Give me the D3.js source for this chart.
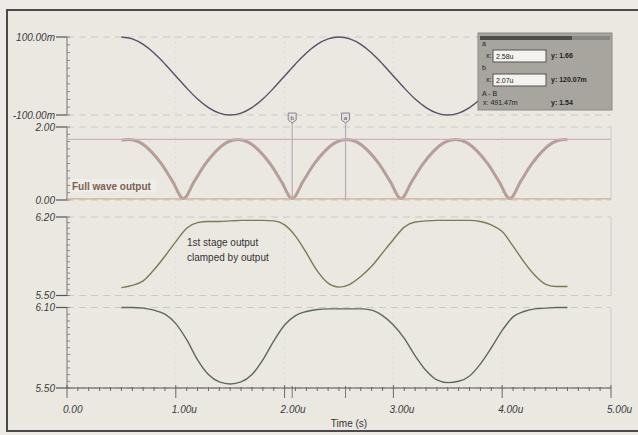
<!DOCTYPE html>
<html>
<head>
<meta charset="utf-8">
<script src="https://cdn.jsdelivr.net/npm/d3@7"></script>
<style>
  body { margin: 0; background: #eeebe6; }
  svg { display: block; font-family: 'Liberation Sans', Arial, sans-serif; }
</style>
</head>
<body>
<svg width="638" height="435"></svg>
<script>
// time base in microseconds
const timeA = [0.5,0.6,0.7,0.8,0.9,1.0,1.1,1.2,1.3,1.4,1.5,1.6,1.7,1.8,1.9,2.0,2.1,2.2,2.3,2.4,2.5,2.6,2.7,2.8,2.9,3.0,3.1,3.2,3.3,3.4,3.5,3.6,3.7,3.8,3.9,4.0,4.1,4.2,4.3,4.4,4.5,4.6]
const timeB = [0.5,0.57,0.67,0.77,0.87,0.97,1.07,1.17,1.27,1.37,1.47,1.57,1.67,1.77,1.87,1.97,2.07,2.17,2.27,2.37,2.47,2.57,2.67,2.77,2.87,2.97,3.07,3.17,3.27,3.37,3.47,3.57,3.67,3.77,3.87,3.97,4.07,4.17,4.27,4.37,4.47,4.57,4.6]

// input sine (mV)
const inputMv = [100,95,81,59,31,0,-31,-59,-81,-95,-100,-95,-81,-59,-31,0,31,59,81,95,100,95,81,59,31,0,-31,-59,-81,-95,-100,-95,-81,-59,-31,0,31,59,81,95,100,95]
// full wave output (V)
const fullWave = [1.64,1.66,1.58,1.34,0.98,0.51,0.04,0.51,0.98,1.34,1.58,1.66,1.58,1.34,0.98,0.51,0.04,0.51,0.98,1.34,1.58,1.66,1.58,1.34,0.98,0.51,0.04,0.51,0.98,1.34,1.58,1.66,1.58,1.34,0.98,0.51,0.04,0.51,0.98,1.34,1.58,1.66,1.65]
// 1st stage output (V)
const stageOne = [5.57,5.59,5.63,5.73,5.85,5.98,6.10,6.15,6.16,6.16,6.165,6.17,6.17,6.17,6.165,6.13,6.03,5.88,5.72,5.61,5.575,5.60,5.67,5.76,5.88,6.00,6.11,6.155,6.165,6.17,6.17,6.17,6.17,6.16,6.13,6.07,5.94,5.80,5.68,5.60,5.58,5.58]
// bottom trace (V)
const bottomTrace = [6.10,6.10,6.095,6.08,6.05,5.98,5.86,5.71,5.60,5.545,5.53,5.545,5.60,5.71,5.85,5.97,6.04,6.07,6.085,6.09,6.09,6.09,6.09,6.08,6.04,5.97,5.87,5.74,5.63,5.56,5.54,5.55,5.59,5.68,5.80,5.93,6.03,6.07,6.09,6.095,6.10,6.10]

const xTicks = [0, 1, 2, 3, 4, 5]
const xTickLabels = ['0.00', '1.00u', '2.00u', '3.00u', '4.00u', '5.00u']
const cursorNames = ['b', 'a']
const cursorTimes = [2.07, 2.56]

const panels = [
  { top: 37, bottom: 115, domain: [-100, 100], labels: ['100.00m', '-100.00m'], t: timeA, v: inputMv, color: '#5a4d66', width: 1.4 },
  { top: 127, bottom: 200, domain: [0, 2], labels: ['2.00', '0.00'], t: timeB, v: fullWave, color: '#b79f97', width: 3 },
  { top: 217, bottom: 295.5, domain: [5.5, 6.2], labels: ['6.20', '5.50'], t: timeA, v: stageOne, color: '#7b7a55', width: 1.4 },
  { top: 307.5, bottom: 388, domain: [5.5, 6.1], labels: ['6.10', '5.50'], t: timeA, v: bottomTrace, color: '#5c6b58', width: 1.4 }
]

const svg = d3.select('svg')
const x = d3.scaleLinear().domain([0, 5]).range([67, 611])

drawFrame()
panels.forEach(drawPanel)
drawCursors()
drawXAxis()
drawNotes()
drawCursorBox()


function drawFrame () {
  svg.append('rect') // scanned page frame
    .attr('x', 7).attr('y', 10)
    .attr('width', 660).attr('height', 421)
    .attr('fill', '#ebe8e2')
    .attr('stroke', '#4a4a4a')
    .attr('stroke-width', 2)
}


function drawPanel (p, i) {
  const y = d3.scaleLinear().domain(p.domain).range([p.bottom, p.top])
  const g = svg.append('g')

  // dashed top / bottom grid and faint vertical grid
  ;[p.top, p.bottom].forEach((yy) => {
    g.append('line')
      .attr('x1', 67).attr('x2', 611).attr('y1', yy).attr('y2', yy)
      .attr('stroke', '#ccc8c3').attr('stroke-dasharray', '7,5')
  })
  xTicks.slice(1, 5).forEach((t) => {
    g.append('line')
      .attr('x1', x(t)).attr('x2', x(t)).attr('y1', p.top).attr('y2', p.bottom)
      .attr('stroke', '#d3cfca').attr('stroke-dasharray', '1,4')
  })
  if (i > 0) {
    g.append('line')
      .attr('x1', 611).attr('x2', 611).attr('y1', p.top).attr('y2', p.bottom)
      .attr('stroke', '#cfcbc7')
  }

  // y axis with minor ticks
  g.append('line')
    .attr('x1', 67).attr('x2', 67).attr('y1', p.top).attr('y2', p.bottom)
    .attr('stroke', '#777')
  y.ticks(10).forEach((v) => {
    g.append('line')
      .attr('x1', 67).attr('x2', 70).attr('y1', y(v)).attr('y2', y(v))
      .attr('stroke', '#888')
  })
  p.domain.slice().reverse().forEach((v, k) => {
    g.append('line')
      .attr('x1', 56).attr('x2', 67).attr('y1', y(v)).attr('y2', y(v))
      .attr('stroke', '#555').attr('stroke-width', 1.2)
    g.append('text')
      .attr('x', 55).attr('y', y(v) + 3.5)
      .attr('text-anchor', 'end')
      .attr('font-size', 10).attr('font-style', 'italic')
      .attr('fill', '#3a3a3a')
      .text(p.labels[k])
  })

  const line = d3.line()
    .curve(d3.curveMonotoneX)
    .x((d, k) => x(p.t[k]))
    .y((d) => y(d))
  g.append('path')
    .datum(p.v)
    .attr('d', line)
    .attr('fill', 'none')
    .attr('stroke', p.color)
    .attr('stroke-width', p.width)
}


function drawCursors () {
  const y = d3.scaleLinear().domain(panels[1].domain).range([panels[1].bottom, panels[1].top])
  svg.append('line') // cursor a level
    .attr('x1', 67).attr('x2', 611).attr('y1', y(1.66)).attr('y2', y(1.66))
    .attr('stroke', '#cdb0c0').attr('stroke-width', 1.2)
  svg.append('line') // cursor b level
    .attr('x1', 67).attr('x2', 611).attr('y1', y(0.03)).attr('y2', y(0.03))
    .attr('stroke', '#d2ae90').attr('stroke-width', 1.2)

  cursorTimes.forEach((t, i) => {
    const cx = x(t)
    svg.append('line')
      .attr('x1', cx).attr('x2', cx).attr('y1', 121).attr('y2', panels[1].bottom)
      .attr('stroke', '#bcaab9').attr('stroke-width', 1.2)
    svg.append('path')
      .attr('d', `M${cx - 4},113 h8 v7 l-4,3 l-4,-3 z`)
      .attr('fill', '#e4dde2').attr('stroke', '#8f8490')
    svg.append('text')
      .attr('x', cx).attr('y', 120)
      .attr('text-anchor', 'middle')
      .attr('font-size', 6).attr('fill', '#555')
      .text(cursorNames[i])
    svg.append('line')
      .attr('x1', cx).attr('x2', cx).attr('y1', 386).attr('y2', 398)
      .attr('stroke', '#777')
  })
}


function drawXAxis () {
  const yAxis = 388
  svg.append('line')
    .attr('x1', 67).attr('x2', 611).attr('y1', yAxis).attr('y2', yAxis)
    .attr('stroke', '#555').attr('stroke-width', 1.2)
  d3.range(0, 51).forEach((k) => {
    const major = k % 10 === 0
    svg.append('line')
      .attr('x1', x(k / 10)).attr('x2', x(k / 10))
      .attr('y1', major ? yAxis - 3 : yAxis - 1)
      .attr('y2', major ? yAxis + 10 : yAxis + 3)
      .attr('stroke', '#666')
  })
  xTicks.forEach((t, i) => {
    svg.append('text')
      .attr('x', x(t) - 4).attr('y', 413)
      .attr('font-size', 10).attr('font-style', 'italic')
      .attr('fill', '#3a3a3a')
      .text(xTickLabels[i])
  })
  svg.append('text')
    .attr('x', 349).attr('y', 427)
    .attr('text-anchor', 'middle')
    .attr('font-size', 10).attr('fill', '#333')
    .text('Time (s)')
}


function drawNotes () {
  svg.append('rect')
    .attr('x', 70).attr('y', 179).attr('width', 86).attr('height', 13)
    .attr('fill', '#efede9')
  svg.append('text')
    .attr('x', 72).attr('y', 189.5)
    .attr('font-size', 10).attr('font-weight', 'bold')
    .attr('fill', '#7b6050')
    .text('Full wave output')

  const note = svg.append('text')
    .attr('font-size', 10).attr('fill', '#333')
  note.append('tspan').attr('x', 187).attr('y', 246).text('1st stage output')
  note.append('tspan').attr('x', 187).attr('y', 261).text('clamped by output')
}


function drawCursorBox () {
  const g = svg.append('g').attr('font-size', 7).attr('fill', '#222')
  g.append('rect')
    .attr('x', 478).attr('y', 33).attr('width', 134).attr('height', 77)
    .attr('fill', '#a7a59e').attr('stroke', '#8c8a84')
  g.append('rect')
    .attr('x', 480).attr('y', 36).attr('width', 92).attr('height', 4)
    .attr('fill', '#4e4d4a')
  g.append('rect')
    .attr('x', 572).attr('y', 36).attr('width', 38).attr('height', 4)
    .attr('fill', '#8a8883')

  const rows = [
    { tag: 'a', top: 50, x: '2.58u', y: 'y: 1.66' },
    { tag: 'b', top: 74, x: '2.07u', y: 'y: 120.07m' }
  ]
  rows.forEach((r) => {
    g.append('text').attr('x', 482).attr('y', r.top - 4).text(r.tag)
    g.append('text').attr('x', 486).attr('y', r.top + 8).text('x:')
    g.append('rect')
      .attr('x', 493).attr('y', r.top).attr('width', 53).attr('height', 12)
      .attr('fill', '#f3f2ee').attr('stroke', '#555')
    g.append('text').attr('x', 496).attr('y', r.top + 8.5).text(r.x)
    g.append('text').attr('x', 551).attr('y', r.top + 8).attr('font-weight', 'bold').text(r.y)
  })
  g.append('text').attr('x', 482).attr('y', 96).text('A - B')
  g.append('text').attr('x', 483).attr('y', 105).text('x: 491.47m')
  g.append('text').attr('x', 551).attr('y', 105).attr('font-weight', 'bold').text('y: 1.54')
}
</script>
</body>
</html>
